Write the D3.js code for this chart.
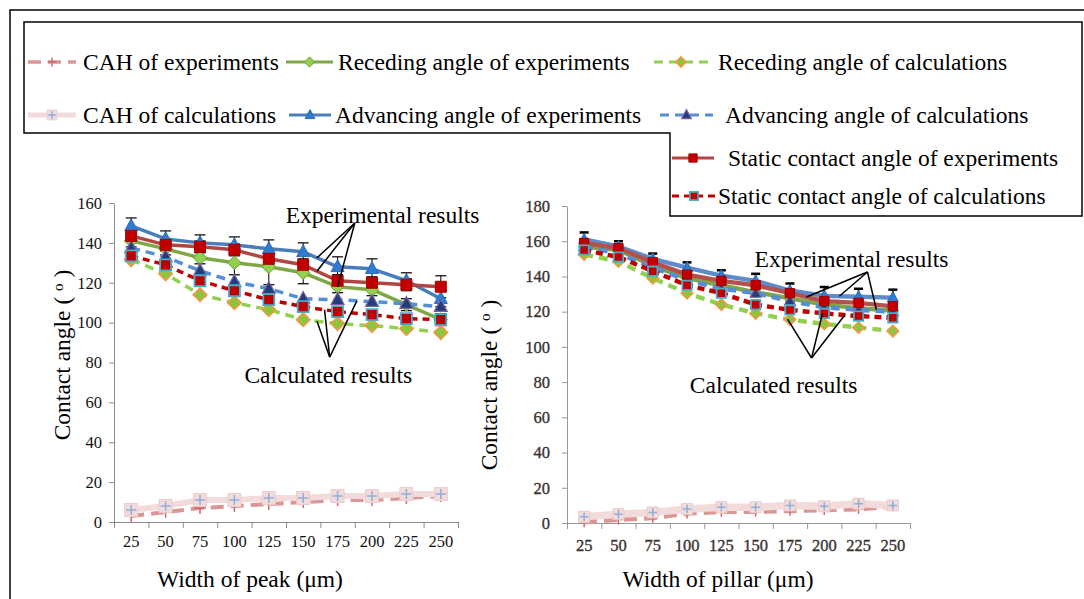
<!DOCTYPE html>
<html>
<head>
<meta charset="utf-8">
<script src="https://cdn.jsdelivr.net/npm/d3@7"></script>
<style>
  body { margin: 0; background: #fff; }
  svg { display: block; }
  svg text { font-family: 'Liberation Serif', Tinos, 'Times New Roman', Times, 'DejaVu Serif', serif !important; }
</style>
</head>
<body>
<svg id="chart" width="1084" height="599"></svg>
<script>
// ---- categories and tick labels ----
const widthLabels = ["25", "50", "75", "100", "125", "150", "175", "200", "225", "250"];
const peakTicks = [0, 20, 40, 60, 80, 100, 120, 140, 160];
const pillarTicks = [0, 20, 40, 60, 80, 100, 120, 140, 160, 180];

// ---- contact angles versus width of peak (degrees) ----
const peakAdvExp      = [148.5, 142, 140, 139, 137, 135.5, 128, 127, 121, 112];
const peakAdvExpErr   = [4, 4, 4, 4, 4.5, 4.5, 5, 5, 4, 4];
const peakStaticExp   = [143.5, 139, 138, 136.5, 132, 129, 121, 120, 119, 118];
const peakStaticExpErr= [3, 3, 3, 3, 3, 3, 3, 3, 3, 5.5];
const peakRecExp      = [141, 137, 132.5, 130, 128, 125, 118, 116.5, 109, 101.5];
const peakRecExpErr   = [3, 3, 3, 6, 9, 5.5, 3, 3, 3, 3];
const peakAdvCalc     = [137.5, 133, 126, 120.5, 117, 112, 111.5, 110.5, 109.5, 108];
const peakStaticCalc  = [133.5, 129, 121, 116, 111.5, 108, 105.5, 104, 102, 101.5];
const peakRecCalc     = [131.5, 124.5, 114, 110, 106.5, 101.5, 99.5, 98.5, 97, 95];
const peakCahExp      = [3, 5, 7, 8, 9, 10, 11, 11, 12, 13];
const peakCahCalc     = [6, 8, 11, 11, 12, 12, 13, 13, 14, 14];

// ---- contact angles versus width of pillar (degrees) ----
const pillarAdvExp      = [161, 157, 150, 145, 140.5, 137.5, 132, 129, 128.5, 128];
const pillarAdvExpErr   = [4, 3, 3, 3, 3, 4, 4, 5, 4.5, 4.5];
const pillarStaticExp   = [159, 156, 148, 141, 137.5, 135, 130.5, 126, 125, 123];
const pillarStaticExpErr= [2, 2, 2, 2, 2, 2, 2, 2, 2, 2];
const pillarRecExp      = [157, 155, 146, 139, 135, 131, 127.5, 124, 122, 120.5];
const pillarRecExpErr   = [2, 2, 2, 2, 2, 2, 2, 2, 2, 2];
const pillarAdvCalc     = [157, 153, 145, 138, 133, 130.5, 126, 122.5, 121, 120];
const pillarStaticCalc  = [155, 151, 143, 135, 130.5, 124, 121, 119, 117.5, 116.5];
const pillarRecCalc     = [152.5, 148.5, 139, 130.5, 124, 119, 115.5, 113, 111, 109];
const pillarCahExp      = [0.5, 2, 3, 5.5, 6.5, 6.5, 7, 7.5, 8, 9.5];
const pillarCahCalc     = [3.5, 5, 6, 8, 9, 9, 10, 9.5, 11, 10];

// ---- legend text ----
const seriesLabels = {
  cahExp: "CAH of experiments",
  recExp: "Receding angle of experiments",
  recCalc: "Receding angle of calculations",
  cahCalc: "CAH of calculations",
  advExp: "Advancing angle of experiments",
  advCalc: "Advancing angle of calculations",
  staticExp: "Static contact angle of experiments",
  staticCalc: "Static contact angle of calculations"
};

// series drawing order (later ones sit on top)
const drawOrder = ["cahExp", "recExp", "recCalc", "cahCalc", "advExp", "advCalc", "staticExp", "staticCalc"];

const SERIF = "'Liberation Serif', Tinos, 'Times New Roman', Times, 'DejaVu Serif', serif";

// ---- series appearance ----
const STY = {
  cahExp:     { stroke: "#D99694", lw: 4,   dash: "13,7", shape: "plus",       fill: "none",    mStroke: "#CC6C69", mSize: 12, mw: 1.5 },
  cahCalc:    { stroke: "#F2DCDB", lw: 6,   dash: null,   shape: "squarePlus", fill: "#F2DCDB", mStroke: "#EBCBCA", plus: "#8FAEDA", mSize: 13, mw: 1 },
  recExp:     { stroke: "#7FA744", lw: 3.5, dash: null,   shape: "diamond",    fill: "#92D050", mStroke: "#6F9A38", mSize: 11, mw: 1 },
  recCalc:    { stroke: "#92D050", lw: 3.5, dash: "9,6",  shape: "diamond",    fill: "#8CC63F", mStroke: "#F79646", mSize: 11, mw: 1.5 },
  advExp:     { stroke: "#4A7EBB", lw: 3.5, dash: null,   shape: "triangle",   fill: "#2F7BD3", mStroke: "#2F6CB5", mSize: 13, mw: 1 },
  advCalc:    { stroke: "#558ED5", lw: 3.5, dash: "9,6",  shape: "triangle",   fill: "#203F7A", mStroke: "#7D60A0", mSize: 13, mw: 1.2 },
  staticExp:  { stroke: "#B04542", lw: 3.5, dash: null,   shape: "square",     fill: "#C00000", mStroke: "#A50000", mSize: 11, mw: 1 },
  staticCalc: { stroke: "#C00000", lw: 3.5, dash: "7,5",  shape: "square",     fill: "#C00000", mStroke: "#4BACC6", mSize: 11, mw: 1.8 }
};

// ---- marker shapes (size = edge length squared) ----
const symTriangle = { draw(ctx, size) { const s = Math.sqrt(size); const h = s * 0.92;
  ctx.moveTo(0, -h * 0.6); ctx.lineTo(s / 2, h * 0.4); ctx.lineTo(-s / 2, h * 0.4); ctx.closePath(); } };
const symSquare = { draw(ctx, size) { const r = Math.sqrt(size) / 2; ctx.rect(-r, -r, 2 * r, 2 * r); } };
const symDiamond = { draw(ctx, size) { const r = Math.sqrt(size) * 0.62;
  ctx.moveTo(0, -r); ctx.lineTo(r, 0); ctx.lineTo(0, r); ctx.lineTo(-r, 0); ctx.closePath(); } };
const symPlus = { draw(ctx, size) { const r = Math.sqrt(size) / 2;
  ctx.moveTo(-r, 0); ctx.lineTo(r, 0); ctx.moveTo(0, -r); ctx.lineTo(0, r); } };

const svg = d3.select("#chart");

// slight softening used for the pillar panel's plotted marks
svg.append("defs").append("filter").attr("id", "soft")
  .attr("x", "-5%").attr("y", "-5%").attr("width", "110%").attr("height", "110%")
  .append("feGaussianBlur").attr("stdDeviation", 0.55);

function drawMarker(g, st, px, py, scale) {
  const sz = Math.pow(st.mSize * scale, 2);
  if (st.shape === "plus") {
    g.append("path").attr("transform", `translate(${px},${py})`)
      .attr("d", d3.symbol(symPlus, sz)()).attr("fill", "none")
      .attr("stroke", st.mStroke).attr("stroke-width", st.mw);
  } else if (st.shape === "squarePlus") {
    g.append("path").attr("transform", `translate(${px},${py})`)
      .attr("d", d3.symbol(symSquare, sz)()).attr("fill", st.fill)
      .attr("stroke", st.mStroke).attr("stroke-width", st.mw);
    g.append("path").attr("transform", `translate(${px},${py})`)
      .attr("d", d3.symbol(symPlus, sz * 0.6)()).attr("fill", "none")
      .attr("stroke", st.plus).attr("stroke-width", 1.5);
  } else {
    const type = st.shape === "triangle" ? symTriangle : st.shape === "diamond" ? symDiamond : symSquare;
    g.append("path").attr("transform", `translate(${px},${py})`)
      .attr("d", d3.symbol(type, sz)()).attr("fill", st.fill)
      .attr("stroke", st.mStroke).attr("stroke-width", st.mw);
  }
}

function drawChart(cfg, data, errs) {
  const g = svg.append("g");
  const x = d3.scaleBand().domain(widthLabels).range([cfg.x0, cfg.x1]).padding(0);
  const y = d3.scaleLinear().domain([0, cfg.yMax]).range([cfg.yBot, cfg.yTop]);
  const bw = x.bandwidth();
  const cx = i => x(widthLabels[i]) + bw / 2;
  const xPos = p => cx(0) + p * bw;

  // y axis
  const ya = g.append("g").attr("transform", `translate(${cfg.x0},0)`)
    .call(d3.axisLeft(y).tickValues(cfg.yTicks).tickSize(5).tickSizeOuter(0).tickPadding(cfg.yPad));
  ya.attr("font-family", SERIF);
  ya.selectAll("path,line").attr("stroke", cfg.axisColor);
  ya.selectAll("text").attr("font-size", 16.5).attr("fill", cfg.tickColor).attr("font-family", SERIF)
    .attr("stroke", cfg.tickStroke ? cfg.tickColor : null).attr("stroke-width", cfg.tickStroke || null);

  // x axis: tick marks on category boundaries, labels at category centres
  const xb = d3.scaleLinear().domain([0, widthLabels.length]).range([cfg.x0, cfg.x1]);
  const xa = g.append("g").attr("transform", `translate(0,${cfg.yBot})`)
    .call(d3.axisBottom(xb).tickValues(d3.range(widthLabels.length + 1)).tickSize(6).tickSizeOuter(0).tickFormat(""));
  xa.selectAll("path,line").attr("stroke", cfg.axisColor);
  const xl = g.append("g").attr("transform", `translate(0,${cfg.yBot})`)
    .call(d3.axisBottom(x).tickSize(0).tickPadding(cfg.xPad));
  xl.attr("font-family", SERIF);
  xl.select(".domain").remove();
  xl.selectAll("text").attr("font-size", 16.5).attr("fill", cfg.tickColor).attr("font-family", SERIF)
    .attr("stroke", cfg.tickStroke ? cfg.tickColor : null).attr("stroke-width", cfg.tickStroke || null);

  // axis titles
  g.append("text").attr("x", cfg.xTitleX).attr("y", cfg.xTitleY).attr("text-anchor", "middle")
    .attr("font-family", SERIF).attr("font-size", 23.5).attr("fill", "#000").text(cfg.xTitle);
  const yt = g.append("text").attr("transform", `translate(${cfg.yTitleX},${cfg.yTitleY}) rotate(-90)`)
    .attr("font-family", SERIF)
    .attr("text-anchor", "middle").attr("dy", "0.35em").attr("font-size", 23.5).attr("fill", "#000");
  yt.append("tspan").text("Contact angle ( ");
  yt.append("tspan").attr("font-size", 15).attr("dy", -7).text("o");
  yt.append("tspan").attr("dy", 7).text(" )");

  const plot = g.append("g").attr("filter", cfg.soft ? "url(#soft)" : null);

  // error bars of the measured series
  const eg = plot.append("g");
  Object.keys(errs).forEach(k => {
    const vals = data[k], e = errs[k];
    vals.forEach((v, i) => {
      const px = cx(i), yl = y(v - e[i]), yh = y(v + e[i]);
      eg.append("line").attr("x1", px).attr("x2", px).attr("y1", yl).attr("y2", yh)
        .attr("stroke", "#000").attr("stroke-width", cfg.errW);
      [yl, yh].forEach(yy => eg.append("line").attr("x1", px - cfg.capW / 2).attr("x2", px + cfg.capW / 2)
        .attr("y1", yy).attr("y2", yy).attr("stroke", "#000").attr("stroke-width", cfg.capStroke));
    });
  });

  // series lines and markers
  const line = d3.line().x((v, i) => cx(i)).y(v => y(v));
  drawOrder.forEach(k => {
    const st = STY[k];
    const sg = plot.append("g");
    sg.append("path").attr("d", line(data[k])).attr("fill", "none")
      .attr("stroke", cfg.lineColor && cfg.lineColor[k] ? cfg.lineColor[k] : st.stroke)
      .attr("stroke-width", st.lw * cfg.lineScale)
      .attr("stroke-dasharray", st.dash).attr("stroke-linejoin", "round");
    data[k].forEach((v, i) => drawMarker(sg, st, cx(i), y(v), cfg.markerScale));
  });

  // annotation call-outs
  cfg.notes.forEach(n => {
    const ax = xPos(n.apex[0]), ay = y(n.apex[1]);
    n.targets.forEach(t => {
      const vals = data[t.series];
      const i0 = Math.floor(t.pos), f = t.pos - i0;
      const v = vals[i0] + f * (vals[Math.min(i0 + 1, vals.length - 1)] - vals[i0]);
      g.append("line").attr("x1", ax).attr("y1", ay).attr("x2", xPos(t.pos)).attr("y2", y(v))
        .attr("stroke", "#000").attr("stroke-width", 1.5);
    });
    g.append("text").attr("x", xPos(n.text[0])).attr("y", y(n.text[1])).attr("dy", "0.35em")
      .attr("font-family", SERIF).attr("font-size", 23.5).attr("fill", "#000").text(n.label);
  });
}

// outer frame and stepped legend box
svg.append("rect").attr("x", 10).attr("y", 10).attr("width", 1100).attr("height", 640)
  .attr("fill", "none").attr("stroke", "#000").attr("stroke-width", 1.5);
svg.append("path").attr("d", "M24,22H1082V216H670V133H24Z")
  .attr("fill", "#fff").attr("stroke", "#000").attr("stroke-width", 1.5);

// legend entries
const legendItems = [
  { key: "cahExp",     x0: 28,  x1: 76,  tx: 83,  y: 62 },
  { key: "recExp",     x0: 286, x1: 333, tx: 338, y: 62 },
  { key: "recCalc",    x0: 654, x1: 708, tx: 718, y: 62 },
  { key: "cahCalc",    x0: 28,  x1: 76,  tx: 83,  y: 115 },
  { key: "advExp",     x0: 289, x1: 331, tx: 335, y: 115 },
  { key: "advCalc",    x0: 660, x1: 713, tx: 725, y: 115 },
  { key: "staticExp",  x0: 672, x1: 714, tx: 728, y: 158 },
  { key: "staticCalc", x0: 672, x1: 716, tx: 718, y: 196 }
];
const lg = svg.append("g");
legendItems.forEach(it => {
  const st = STY[it.key];
  lg.append("line").attr("x1", it.x0).attr("x2", it.x1).attr("y1", it.y).attr("y2", it.y)
    .attr("stroke", st.stroke).attr("stroke-width", st.lw * 0.85).attr("stroke-dasharray", st.dash);
  drawMarker(lg, st, (it.x0 + it.x1) / 2, it.y, 0.75);
  lg.append("text").attr("x", it.tx).attr("y", it.y).attr("dy", "0.33em")
    .attr("font-family", SERIF).attr("font-size", 23.5).attr("fill", "#000").text(seriesLabels[it.key]);
});

// left panel: width of peak
drawChart({
  x0: 114, x1: 458, yTop: 203, yBot: 522, yMax: 160, yTicks: peakTicks,
  yPad: 7, xPad: 13, axisColor: "#8c8c8c", tickColor: "#111",
  xTitle: "Width of peak (\u03bcm)", xTitleX: 250, xTitleY: 587,
  yTitleX: 62, yTitleY: 355,
  lineScale: 1, markerScale: 1, errW: 1, capW: 11, capStroke: 1.2,
  notes: [
    { label: "Experimental results", apex: [6.5, 150], text: [4.49, 154],
      targets: [{ series: "advExp", pos: 5.4 }, { series: "staticExp", pos: 5.4 }, { series: "recExp", pos: 6.0 }] },
    { label: "Calculated results", apex: [5.77, 82.7], text: [3.29, 73.7],
      targets: [{ series: "recCalc", pos: 5.4 }, { series: "staticCalc", pos: 5.62 }, { series: "advCalc", pos: 6.56 }] }
  ]
}, {
  cahExp: peakCahExp, cahCalc: peakCahCalc, recExp: peakRecExp, recCalc: peakRecCalc,
  advExp: peakAdvExp, advCalc: peakAdvCalc, staticExp: peakStaticExp, staticCalc: peakStaticCalc
}, { recExp: peakRecExpErr, advExp: peakAdvExpErr, staticExp: peakStaticExpErr });

// right panel: width of pillar
drawChart({
  x0: 567, x1: 910, yTop: 206, yBot: 523, yMax: 180, yTicks: pillarTicks,
  yPad: 12, xPad: 16, axisColor: "#999", tickColor: "#3a3330", tickStroke: 0.35,
  xTitle: "Width of pillar (\u03bcm)", xTitleX: 718, xTitleY: 587,
  yTitleX: 489, yTitleY: 385, soft: true,
  lineScale: 1.25, markerScale: 0.85, errW: 1.5, capW: 9, capStroke: 2.5,
  lineColor: { advExp: "#5B8CCB", staticExp: "#B5514E" },
  notes: [
    { label: "Experimental results", apex: [8.26, 142.5], text: [4.97, 150],
      targets: [{ series: "staticExp", pos: 6.48 }, { series: "advExp", pos: 7.44 }, { series: "recExp", pos: 8.52 }] },
    { label: "Calculated results", apex: [6.63, 93.7], text: [3.08, 78.4],
      targets: [{ series: "recCalc", pos: 5.93 }, { series: "staticCalc", pos: 6.95 }, { series: "staticCalc", pos: 7.6 }] }
  ]
}, {
  cahExp: pillarCahExp, cahCalc: pillarCahCalc, recExp: pillarRecExp, recCalc: pillarRecCalc,
  advExp: pillarAdvExp, advCalc: pillarAdvCalc, staticExp: pillarStaticExp, staticCalc: pillarStaticCalc
}, { recExp: pillarRecExpErr, advExp: pillarAdvExpErr, staticExp: pillarStaticExpErr });
</script>
</body>
</html>
